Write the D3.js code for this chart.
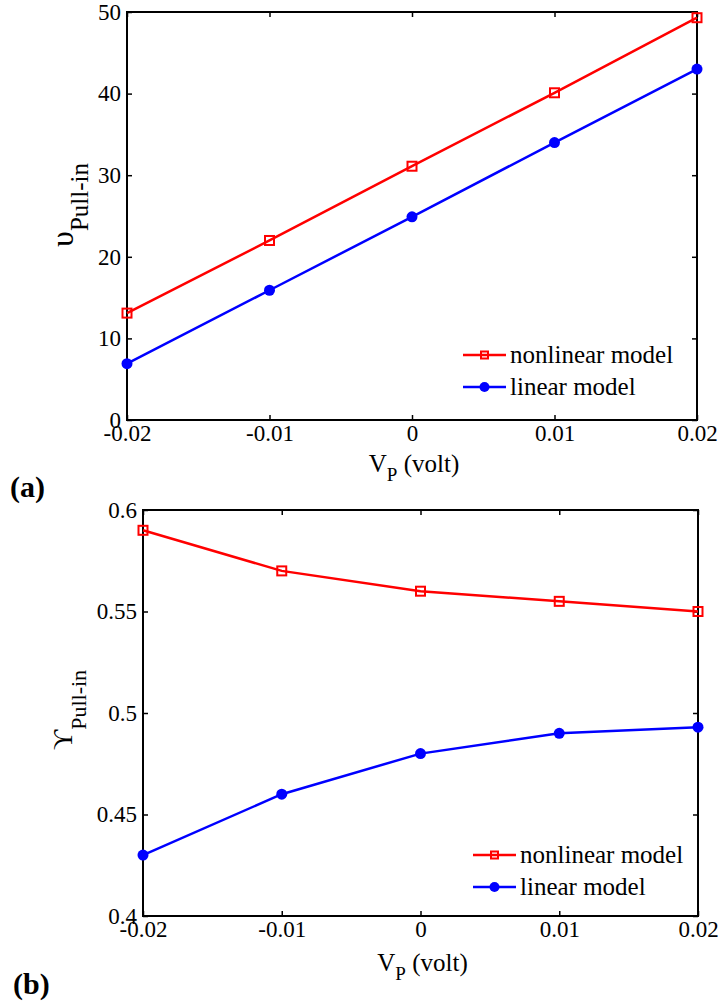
<!DOCTYPE html>
<html>
<head>
<meta charset="utf-8">
<script src="https://cdn.jsdelivr.net/npm/d3@7"></script>
<style>
  body { margin: 0; background: #fff; }
  svg { display: block; }
  .tick text { font-family: "Liberation Serif", "Times New Roman", Times, "DejaVu Serif", serif; font-size: 23px; fill: #000; }
  .lbl { font-family: "Liberation Serif", "Times New Roman", Times, "DejaVu Serif", serif; fill: #000; }
</style>
</head>
<body>
<svg id="chart" width="722" height="1003"></svg>
<script>
// shared x values
const vp = [-0.02, -0.01, 0, 0.01, 0.02];
const xTicks = [-0.02, -0.01, 0, 0.01, 0.02];

// panel (a)
const upsNonlinear = [13.1, 22.0, 31.1, 40.1, 49.3];
const upsLinear = [6.9, 15.9, 24.9, 34.0, 43.0];
const upsTicks = [0, 10, 20, 30, 40, 50];

// panel (b)
const gamNonlinear = [0.59, 0.57, 0.56, 0.555, 0.55];
const gamLinear = [0.43, 0.46, 0.48, 0.49, 0.493];
const gamTicks = [0.4, 0.45, 0.5, 0.55, 0.6];

const seriesNames = ["nonlinear model", "linear model"];

const svg = d3.select("#chart");

function drawPanel(opt) {
  const x = d3.scaleLinear().domain([-0.02, 0.02]).range([opt.left, opt.right]);
  const y = d3.scaleLinear().domain(opt.yDomain).range([opt.bottom, opt.top]);
  const g = svg.append("g");

  // axes with inward ticks
  g.append("g")
    .attr("transform", `translate(0,${opt.bottom})`)
    .call(d3.axisBottom(x).tickValues(xTicks).tickSize(-5).tickPadding(5)
      .tickFormat(d => d === 0 ? "0" : d3.format(".2f")(d).replace("\u2212", "-")));
  g.append("g")
    .attr("transform", `translate(${opt.left},0)`)
    .call(d3.axisLeft(y).tickValues(opt.yTicks).tickSize(-5).tickPadding(6).tickFormat(opt.yFmt));
  // mirrored ticks on top/right
  g.append("g").attr("transform", `translate(0,${opt.top})`)
    .call(d3.axisTop(x).tickValues(xTicks).tickSize(-5).tickFormat(""));
  g.append("g").attr("transform", `translate(${opt.right},0)`)
    .call(d3.axisRight(y).tickValues(opt.yTicks).tickSize(-5).tickFormat(""));
  g.selectAll(".domain").remove();
  g.selectAll(".tick line").attr("stroke", "#000").attr("stroke-width", 1.5);
  g.selectAll(".tick text").attr("font-family", null).attr("font-size", null);

  g.append("rect")
    .attr("x", opt.left).attr("y", opt.top)
    .attr("width", opt.right - opt.left).attr("height", opt.bottom - opt.top)
    .attr("fill", "none").attr("stroke", "#000").attr("stroke-width", 2);

  const line = d3.line().x((d, i) => x(vp[i])).y(d => y(d));

  const series = [
    { name: seriesNames[0], values: opt.nonlinear, color: "#ff0000", marker: "square" },
    { name: seriesNames[1], values: opt.linear, color: "#0000ff", marker: "circle" }
  ];
  series.forEach(s => {
    g.append("path").datum(s.values).attr("d", line)
      .attr("fill", "none").attr("stroke", s.color).attr("stroke-width", 2.5);
    s.values.forEach((v, i) => {
      const m = g.append("g").attr("transform", `translate(${x(vp[i])},${y(v)})`);
      if (s.marker === "square") {
        m.append("rect").attr("x", -4.5).attr("y", -4.5).attr("width", 9).attr("height", 9)
          .attr("fill", "none").attr("stroke", s.color).attr("stroke-width", 2);
      } else {
        m.append("circle").attr("r", 5.5).attr("fill", s.color);
      }
    });
  });

  // legend
  series.forEach((s, i) => {
    const ly = opt.legendY + i * 32;
    g.append("line").attr("x1", opt.legendX).attr("x2", opt.legendX + 43)
      .attr("y1", ly).attr("y2", ly).attr("stroke", s.color).attr("stroke-width", 2.5);
    const m = g.append("g").attr("transform", `translate(${opt.legendX + 21.5},${ly})`);
    if (s.marker === "square") {
      m.append("rect").attr("x", -3.5).attr("y", -3.5).attr("width", 7).attr("height", 7)
        .attr("fill", "none").attr("stroke", s.color).attr("stroke-width", 2);
    } else {
      m.append("circle").attr("r", 5).attr("fill", s.color);
    }
    g.append("text").attr("class", "lbl").attr("x", opt.legendX + 47).attr("y", ly + 8)
      .attr("font-size", 25).text(s.name);
  });

  // x label
  const xl = g.append("text").attr("class", "lbl").attr("font-size", 25)
    .attr("x", x(0) + 2).attr("y", opt.bottom + opt.xLabelOff).attr("text-anchor", "middle");
  xl.append("tspan").text("V");
  xl.append("tspan").attr("font-size", 19).attr("dy", 9).text("P");
  xl.append("tspan").attr("dy", -9).text(" (volt)");

  // y label
  const yl = g.append("text").attr("class", "lbl").attr("font-size", opt.ySize)
    .attr("transform", `translate(${opt.yLabelX},${opt.yLabelY}) rotate(-90)`)
    .attr("text-anchor", "middle");
  yl.append("tspan").text(opt.ySym);
  yl.append("tspan").attr("font-size", opt.ySubSize).attr("dy", opt.ySubDy).text("Pull-in");

  // panel tag
  g.append("text").attr("class", "lbl").attr("font-weight", "bold").attr("font-size", 30)
    .attr("x", opt.tagX).attr("y", opt.tagY).text(opt.tag);
}

drawPanel({
  left: 127, right: 697, top: 12, bottom: 420,
  yDomain: [0, 50], yTicks: upsTicks, yFmt: d3.format("d"),
  nonlinear: upsNonlinear, linear: upsLinear,
  legendX: 463, legendY: 355, xLabelOff: 52,
  yLabelX: 73, yLabelY: 205, ySym: "\u03C5", ySize: 32, ySubSize: 25, ySubDy: 15,
  tag: "(a)", tagX: 10, tagY: 497
});

drawPanel({
  left: 143, right: 698, top: 510, bottom: 916,
  yDomain: [0.4, 0.6], yTicks: gamTicks, yFmt: d => String(+d.toFixed(2)),
  nonlinear: gamNonlinear, linear: gamLinear,
  legendX: 473, legendY: 855, xLabelOff: 55,
  yLabelX: 72, yLabelY: 710, ySym: "\u03D2", ySize: 28, ySubSize: 22, ySubDy: 14,
  tag: "(b)", tagX: 13, tagY: 994
});
</script>
</body>
</html>
